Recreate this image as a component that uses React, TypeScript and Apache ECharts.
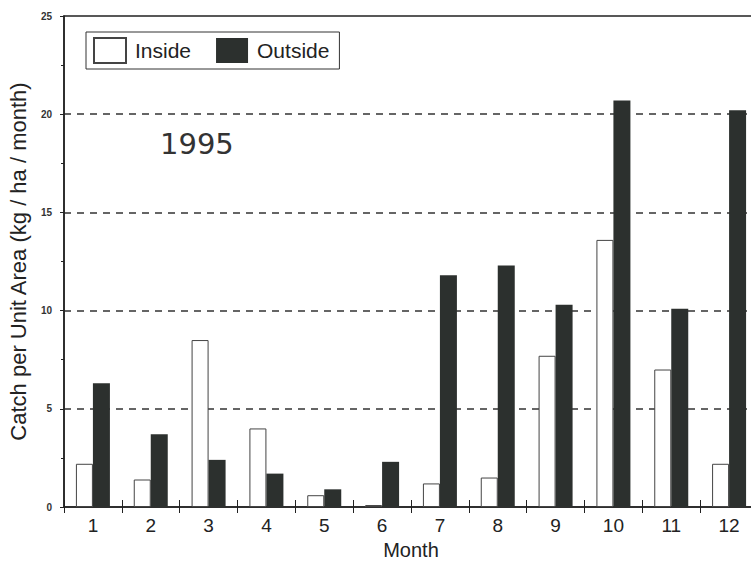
import React, { useEffect, useRef } from "react";
import * as echarts from "echarts";

// Monthly catch per unit area, 1995 (kg / ha / month)
const months = ["1", "2", "3", "4", "5", "6", "7", "8", "9", "10", "11", "12"];
const insideCatch = [2.2, 1.4, 8.5, 4.0, 0.6, 0.1, 1.2, 1.5, 7.7, 13.6, 7.0, 2.2];
const outsideCatch = [6.3, 3.7, 2.4, 1.7, 0.9, 2.3, 11.8, 12.3, 10.3, 20.7, 10.1, 20.2];
const yearLabel = "1995";

const FONT = "'Liberation Sans', Arial, Helvetica, sans-serif";
const INK = "#222";

export default function App() {
  const ref = useRef<HTMLDivElement>(null);

  useEffect(() => {
    if (!ref.current) return;
    const chart = echarts.init(ref.current, null, { renderer: "svg" });
    chart.setOption({
      animation: false,
      backgroundColor: "#fff",
      textStyle: { fontFamily: FONT, color: INK },
      grid: {
        left: 64,
        top: 16,
        bottom: 54,
        right: -7,
        outerBoundsMode: "none",
        containLabel: false,
        show: true,
        borderColor: "#222",
        borderWidth: 1.5,
        backgroundColor: "transparent",
      },
      legend: {
        left: 86,
        top: 32,
        orient: "horizontal",
        padding: [5, 10, 5, 7],
        itemWidth: 32,
        itemHeight: 25,
        itemGap: 25,
        borderColor: "#333",
        borderWidth: 1,
        icon: "rect",
        textStyle: {
          fontFamily: FONT,
          fontSize: 21,
          color: INK,
          padding: [0, 0, 0, 4],
        },
        data: ["Inside", "Outside"],
      },
      xAxis: [
        {
          type: "category",
          data: months,
          position: "bottom",
          name: "Month",
          nameLocation: "middle",
          nameGap: 33,
          nameTextStyle: { fontFamily: FONT, fontSize: 20, color: INK },
          axisLine: { show: true, lineStyle: { color: "#222", width: 1.5 } },
          axisTick: {
            show: true,
            alignWithLabel: false,
            length: 6,
            lineStyle: { color: "#222", width: 1 },
          },
          axisLabel: { fontFamily: FONT, fontSize: 19, color: INK, margin: 9 },
          splitLine: { show: false },
        },
        {
          // mirrors the bottom axis so the month dividers cross the baseline
          type: "category",
          data: months,
          position: "bottom",
          axisLine: { show: false },
          axisTick: {
            show: true,
            inside: true,
            length: 7,
            lineStyle: { color: "#222", width: 1 },
          },
          axisLabel: { show: false },
          splitLine: { show: false },
        },
      ],
      yAxis: {
        type: "value",
        min: 0,
        max: 25,
        interval: 5,
        name: "Catch per Unit Area (kg / ha / month)",
        nameLocation: "middle",
        nameGap: 34,
        nameTextStyle: { fontFamily: FONT, fontSize: 22, color: INK },
        axisLine: { show: true, lineStyle: { color: "#222", width: 1.5 } },
        axisTick: { show: true, length: 4, lineStyle: { color: "#222" } },
        minorTick: { show: true, splitNumber: 2, length: 3, lineStyle: { color: "#222" } },
        axisLabel: {
          fontFamily: FONT,
          fontSize: 10,
          fontWeight: "bold",
          color: "#333",
          margin: 12,
        },
        splitLine: {
          show: true,
          showMinLine: false,
          showMaxLine: false,
          lineStyle: { color: "#333", width: 1.5, type: [7, 6] },
        },
      },
      series: [
        {
          name: "Inside",
          type: "bar",
          data: insideCatch,
          barWidth: 17,
          barGap: "0%",
          itemStyle: { color: "#fff", borderColor: "#444", borderWidth: 1 },
        },
        {
          name: "Outside",
          type: "bar",
          data: outsideCatch,
          barWidth: 17,
          barGap: "0%",
          itemStyle: { color: "#2c302e", borderColor: "#2c302e", borderWidth: 0 },
        },
      ],
      graphic: [
        {
          type: "text",
          left: 160,
          top: 129,
          style: {
            text: yearLabel,
            fontFamily: "'DejaVu Sans', sans-serif",
            fontSize: 29,
            fill: "#333",
          },
        },
      ],
    });
    return () => chart.dispose();
  }, []);

  return (
    <div
      style={{
        position: "absolute",
        left: 0,
        top: 0,
        width: 751,
        height: 561,
        overflow: "hidden",
        background: "#fff",
      }}
    >
      <div ref={ref} style={{ width: 751, height: 561 }} />
    </div>
  );
}
